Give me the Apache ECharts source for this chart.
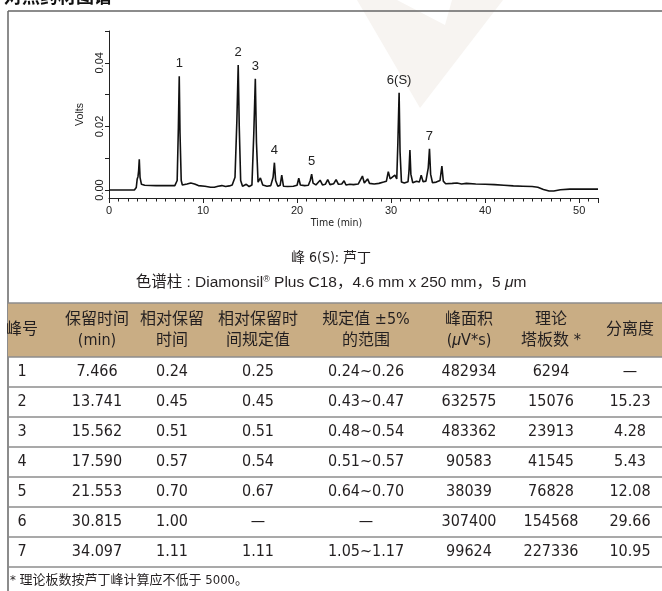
<!DOCTYPE html>
<html><head><meta charset="utf-8">
<script src="https://cdn.jsdelivr.net/npm/echarts@6/dist/echarts.min.js"></script>
<style>html,body{margin:0;padding:0;background:#fff}#c{width:662px;height:591px}</style>
</head><body><div id="c"></div>
<script>
// ---------- chromatogram data ----------
const timeMin = [0,1,2,2.7,2.9,3.0,3.08,3.15,3.22,3.3,3.45,3.8,5,6,7.0,7.25,7.38,7.47,7.55,7.68,7.8,8.3,8.7,9.1,9.5,10.2,10.8,11.2,11.6,12.0,12.4,12.8,13.1,13.4,13.6,13.74,13.85,14.0,14.2,14.6,14.9,15.2,15.4,15.56,15.68,15.85,16.1,16.35,16.8,17.2,17.45,17.59,17.72,17.95,18.2,18.37,18.55,19.0,19.6,20.0,20.18,20.35,20.8,21.2,21.4,21.55,21.7,22.0,22.45,22.7,23.0,23.26,23.5,23.9,24.15,24.4,24.75,25.0,25.2,25.6,26.0,26.5,26.95,27.15,27.5,27.7,28.2,28.7,29.2,29.5,29.7,29.9,30.1,30.4,30.6,30.72,30.85,30.95,31.1,31.4,31.8,31.9,32.0,32.1,32.3,32.7,33.0,33.2,33.4,33.7,33.95,34.08,34.2,34.4,34.8,35.2,35.4,35.55,35.8,36.5,37.0,37.5,38.0,39.0,40.0,41.0,42.0,43.0,44.0,45.0,45.6,46.2,46.8,47.3,48.0,49.0,50.0,51.0,52.0];
const volts = [0,0,0,0,0.0008,0.0035,0.0042,0.006,0.0097,0.004,0.0018,0.0015,0.0014,0.0014,0.0014,0.003,0.02,0.0358,0.018,0.003,0.0016,0.0019,0.0022,0.0019,0.0014,0.0012,0.0009,0.0009,0.0012,0.0014,0.0011,0.0013,0.0016,0.004,0.022,0.0393,0.02,0.003,0.0012,0.0018,0.0011,0.0016,0.018,0.035,0.015,0.0025,0.0038,0.0016,0.0012,0.0014,0.004,0.0086,0.003,0.0012,0.0015,0.0047,0.0012,0.0011,0.0012,0.0015,0.0037,0.0016,0.0014,0.0015,0.003,0.005,0.0022,0.0016,0.0031,0.0016,0.0018,0.0033,0.0017,0.002,0.0033,0.0018,0.0019,0.0029,0.0016,0.0018,0.0017,0.0019,0.0044,0.0022,0.0035,0.0021,0.0019,0.0021,0.0025,0.0028,0.0058,0.0035,0.0031,0.0047,0.0035,0.015,0.0306,0.012,0.0025,0.0022,0.0026,0.006,0.0126,0.005,0.0023,0.0028,0.0025,0.0047,0.0026,0.0028,0.007,0.013,0.005,0.0023,0.0025,0.003,0.0075,0.0028,0.002,0.0021,0.0022,0.0019,0.0021,0.0019,0.0018,0.0017,0.0015,0.0013,0.0012,0.0011,0.0009,0.0002,-0.0003,-0.0003,0.0001,0.0003,0.0003,0.0003,0.0003];
const peakTimes = [7.47,13.74,15.56,17.59,21.55,30.85,34.08];
const peakNames = ['1','2','3','4','5','6(S)','7'];
const xLabelValues = [0,10,20,30,40,50];
const yTickValues = [0,0.01,0.02,0.03,0.04,0.05];
const yLabelValues = [0,0.02,0.04];

// ---------- texts ----------
const titleText = '对照药材图谱';
const noteS = '峰 6(S): 芦丁';
const noteColumn = '色谱柱 : Diamonsil{sup|®} Plus C18，4.6 mm x 250 mm，5 {i|μ}m';
const footnote = '* 理论板数按芦丁峰计算应不低于 5000。';

// ---------- table data ----------
const headers = ['峰号','保留时间\n(min)','相对保留\n时间','相对保留时\n间规定值','规定值 ±5%\n的范围','峰面积\n({i|μ}V*s)','理论\n塔板数 *','分离度'];
const peakNo = ['1','2','3','4','5','6','7'];
const retTime = ['7.466','13.741','15.562','17.590','21.553','30.815','34.097'];
const relRet = ['0.24','0.45','0.51','0.57','0.70','1.00','1.11'];
const relRetSpec = ['0.25','0.45','0.51','0.54','0.67','—','1.11'];
const specRange = ['0.24~0.26','0.43~0.47','0.48~0.54','0.51~0.57','0.64~0.70','—','1.05~1.17'];
const peakArea = ['482934','632575','483362','90583','38039','307400','99624'];
const plates = ['6294','15076','23913','41545','76828','154568','227336'];
const resolution = ['—','15.23','4.28','5.43','12.08','29.66','10.95'];

const FONT = '"Liberation Sans Narrow","DejaVu Sans Condensed","Noto Sans CJK SC",sans-serif';
const FONT2 = '"Liberation Sans","Noto Sans CJK SC",sans-serif';
const AX = '"Liberation Sans",Arial,sans-serif';
const TXT = '#231f20';

const chart = echarts.init(document.getElementById('c'), null, {renderer:'canvas'});

const lineData = timeMin.map((t, i) => {
  const k = peakTimes.indexOf(t);
  if (k >= 0) {
    return {value:[t, volts[i]], label:{show:true, formatter:peakNames[k]}};
  }
  return [t, volts[i]];
});

const colX = [22, 97, 172, 258, 366, 469, 551, 630];
const cols = [peakNo, retTime, relRet, relRetSpec, specRange, peakArea, plates, resolution];
const headTop = 303, headBot = 357, rowH = 30;

const g = [];
// watermark
g.push({type:'polygon', z:-10, silent:true, shape:{points:[[357,0],[397,0],[445,25],[452,0],[503,0],[420,108]]}, style:{fill:'#f7f4f1'}});
// cut-off title
g.push({type:'text', x:4, y:-4, style:{text:titleText, font:'bold 18px "Noto Sans CJK SC",sans-serif', fill:'#111', verticalAlign:'middle'}});
// frame
g.push({type:'line', shape:{x1:8,y1:11,x2:662,y2:11}, style:{stroke:'#666', lineWidth:1.5}});
g.push({type:'line', shape:{x1:8,y1:11,x2:8,y2:591}, style:{stroke:'#666', lineWidth:1.5}});
// notes
g.push({type:'text', x:331, y:258, style:{text:noteS, font:'14px '+FONT, fill:TXT, align:'center', verticalAlign:'middle'}});
g.push({type:'text', x:331, y:283, style:{text:noteColumn, font:'15.5px '+FONT2, fill:TXT, align:'center', verticalAlign:'middle',
  rich:{sup:{fontSize:9, verticalAlign:'top', fontFamily:FONT2}, i:{fontStyle:'italic', fontSize:15.5, fontFamily:'"Liberation Sans",sans-serif'}}}});
// header band
g.push({type:'rect', shape:{x:8,y:headTop,width:654,height:headBot-headTop}, style:{fill:'#c9ad84'}});
g.push({type:'line', shape:{x1:8,y1:headTop,x2:662,y2:headTop}, style:{stroke:'#8c8c8c', lineWidth:1.5}});
g.push({type:'line', shape:{x1:8,y1:headBot,x2:662,y2:headBot}, style:{stroke:'#8c8c8c', lineWidth:1.5}});
headers.forEach((h, c) => {
  g.push({type:'text', x:colX[c], y:(headTop+headBot)/2, style:{text:h, font:'16px '+FONT, fill:TXT, align:'center', verticalAlign:'middle', lineHeight:21,
    rich:{i:{fontStyle:'italic', fontSize:16, fontFamily:'"Liberation Sans",sans-serif', lineHeight:21}}}});
});
for (let r = 0; r < peakNo.length; r++) {
  const cy = headBot + rowH*r + rowH/2;
  cols.forEach((col, c) => {
    g.push({type:'text', x:colX[c], y:cy, style:{text:col[r], font:'16px '+FONT, fill:TXT, align:'center', verticalAlign:'middle'}});
  });
  g.push({type:'line', shape:{x1:8,y1:headBot+rowH*(r+1),x2:662,y2:headBot+rowH*(r+1)}, style:{stroke:'#8c8c8c', lineWidth:1.5}});
}
g.push({type:'text', x:10, y:581, style:{text:footnote, font:'13px '+FONT, fill:TXT, verticalAlign:'middle'}});

chart.setOption({
  animation:false,
  backgroundColor:'#fff',
  grid:{left:109, top:31, width:489, height:167, containLabel:false},
  xAxis:{type:'value', min:0, max:52, interval:10,
    axisLine:{show:true, onZero:false, lineStyle:{color:'#222', width:1}},
    axisTick:{show:true, length:5, lineStyle:{color:'#222'}},
    minorTick:{show:true, splitNumber:10, length:3.5, lineStyle:{color:'#222'}},
    splitLine:{show:false}, minorSplitLine:{show:false},
    axisLabel:{customValues:xLabelValues, fontSize:11, color:'#222', margin:7, fontFamily:AX},
    name:'Time (min)', nameLocation:'middle', nameGap:20,
    nameTextStyle:{fontSize:10.5, color:'#222', fontFamily:FONT, padding:[0,34,0,0]}},
  yAxis:{type:'value', min:-0.0025, max:0.05,
    axisLine:{show:true, onZero:false, lineStyle:{color:'#222', width:1}},
    axisTick:{show:true, customValues:yTickValues, length:4, lineStyle:{color:'#222'}},
    splitLine:{show:false},
    axisLabel:{customValues:yLabelValues, rotate:90, fontSize:11, color:'#222', margin:4, fontFamily:AX, formatter:v=>v.toFixed(2)},
    name:'Volts', nameLocation:'middle', nameGap:19, nameRotate:90,
    nameTextStyle:{fontSize:10.5, color:'#222', fontFamily:AX}},
  series:[{type:'line', data:lineData, showSymbol:true, symbol:'circle', symbolSize:0,
    lineStyle:{color:'#111', width:1.6}, itemStyle:{color:'#111'},
    label:{show:false, position:'top', distance:6, fontSize:13, color:'#222', fontFamily:AX},
    emphasis:{disabled:true}, z:5}],
  graphic:g
});
</script></body></html>
